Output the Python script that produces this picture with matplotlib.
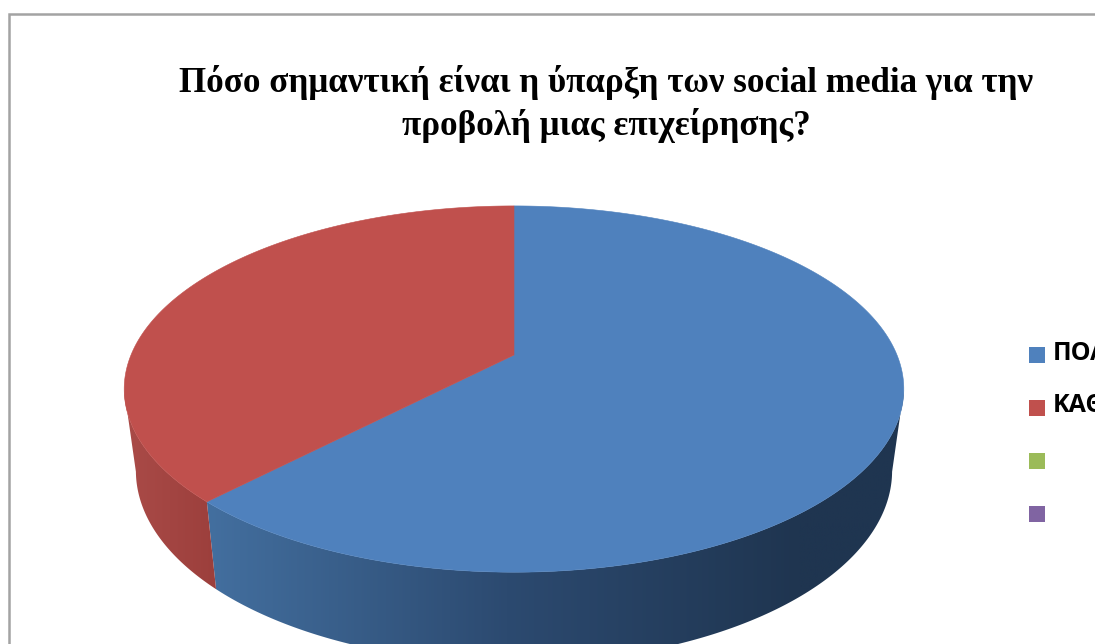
import numpy as np
import matplotlib
matplotlib.use("Agg")
import matplotlib.pyplot as plt
from matplotlib.colors import LinearSegmentedColormap
from matplotlib.patches import Polygon, Rectangle

title_lines = ["Πόσο σημαντική είναι η ύπαρξη των social media για την",
               "προβολή μιας επιχείρησης?"]
labels = ["ΠΟΛΥ", "ΚΑΘΟΛΟΥ", "", ""]
values = [28, 17, 0, 0]
colors = ["#4f81bd", "#c0504d", "#9bbb59", "#8064a2"]

W, H = 1095, 644

# perspective of the pie disc, in pixels
CX = 514
APEX_Y = 355
PERSP = 0.186
KX = 383
KY = 176.8

# lower rim of the wall
BOTTOM_SX = 0.97
BOTTOM_SY = 1.05
BOTTOM_DY = 80

# angles where the disc outline is widest
RIGHT_TANGENT = 101
LEFT_TANGENT = 259


def rim(ang_deg, bottom=False):
    # angle runs clockwise from 12 o'clock
    a = np.radians(np.asarray(ang_deg, dtype=float))
    x, y = np.sin(a), np.cos(a)
    d = 1 + PERSP * y
    u = KX * x / d
    s = KY * y / d
    if bottom:
        return CX + BOTTOM_SX * u, APEX_Y + BOTTOM_DY - BOTTOM_SY * s
    return CX + u, APEX_Y - s


def wall(ax, a0, a1, stops):
    ang = np.linspace(a0, a1, 200)
    xt, yt = rim(ang)
    xb, yb = rim(ang, bottom=True)
    pts = np.r_[np.c_[xt, yt], np.c_[xb, yb][::-1]]
    poly = Polygon(pts, closed=True, fc="none", ec="none", transform=ax.transData)
    ax.add_patch(poly)
    cmap = LinearSegmentedColormap.from_list("wall", stops)
    x0, x1 = pts[:, 0].min(), pts[:, 0].max()
    y0, y1 = pts[:, 1].min(), pts[:, 1].max()
    grad = np.linspace(0, 1, 256)[None, :]
    im = ax.imshow(grad, cmap=cmap, extent=(x0, x1, y1, y0), aspect="auto", zorder=1)
    im.set_clip_path(poly)


fig = plt.figure(figsize=(W / 100, H / 100), dpi=100)
ax = fig.add_axes([0, 0, 1, 1])
ax.set_xlim(0, W)
ax.set_ylim(H, 0)
ax.axis("off")

# chart frame, runs off the right and bottom
ax.add_patch(Rectangle((9, 14), W, H, fc="white", ec="#a3a3a3", lw=1.8, zorder=0))

for i, line in enumerate(title_lines):
    ax.text(606, 82 + i * 43, line, ha="center", va="center", fontsize=25.2,
            fontweight="bold", family="Liberation Serif", color="black")

# slice angles, clockwise from the top
total = sum(values)
edges = np.r_[0, np.cumsum(values)] / total * 360

# walls first, the top face hides their back part
wall(ax, RIGHT_TANGENT, edges[1],
     [(0, "#436f9f"), (0.43, "#2c4a70"), (0.85, "#1f3550"), (1, "#1f3550")])
wall(ax, edges[1], LEFT_TANGENT, ["#aa4b48", "#9c3f3c"])
ax.set_xlim(0, W)
ax.set_ylim(H, 0)

for v, c, a0, a1 in zip(values, colors, edges[:-1], edges[1:]):
    if v == 0:
        continue
    xr, yr = rim(np.linspace(a0, a1, 300))
    pts = np.r_[[[CX, APEX_Y]], np.c_[xr, yr]]
    ax.add_patch(Polygon(pts, closed=True, fc=c, ec=c, lw=0.4, zorder=2))

# legend, last labels are empty
for i, (lab, c) in enumerate(zip(labels, colors)):
    y = 355 + i * 52.9
    ax.add_patch(Rectangle((1029, y - 8), 16, 16, fc=c, ec="none", zorder=3))
    if lab:
        ax.text(1053, y - 2, lab, ha="left", va="center", fontsize=18,
                fontweight="bold", family="Open Sans", color="black", zorder=3)

fig.savefig("out.png", dpi=100)
